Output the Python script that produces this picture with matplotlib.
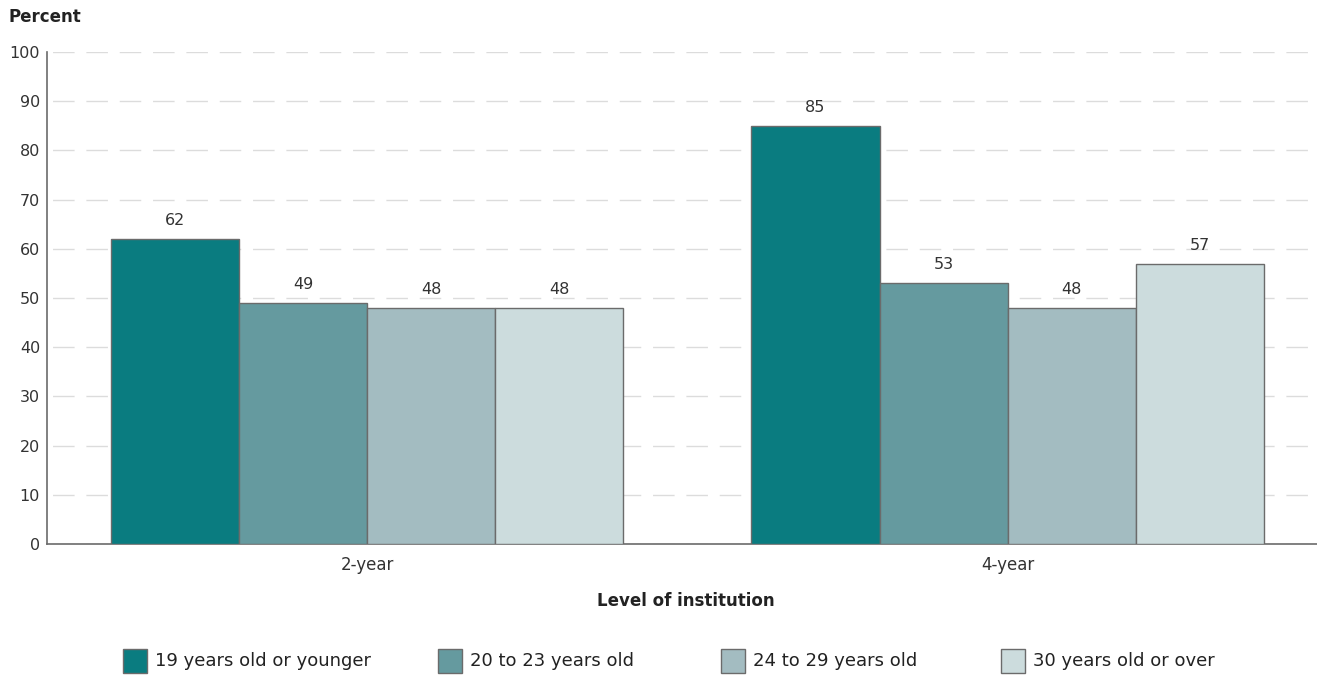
import numpy as np
import matplotlib.pyplot as plt
from matplotlib.patches import Rectangle

levels = ["2-year", "4-year"]
age_groups = ["19 years old or younger", "20 to 23 years old",
              "24 to 29 years old", "30 years old or over"]
pct_19_under = [62, 85]
pct_20_23 = [49, 53]
pct_24_29 = [48, 48]
pct_30_over = [48, 57]
colors = ["#0a7c80", "#659a9f", "#a3bcc1", "#ccdcdd"]

series = [pct_19_under, pct_20_23, pct_24_29, pct_30_over]

plt.rcParams['font.family'] = ['DejaVu Sans']

W, H = 1317, 677
fig = plt.figure(figsize=(W / 100, H / 100), dpi=100)
ax = fig.add_axes([47 / W, (H - 544) / H, (W - 47) / W, (544 - 52) / H])

x = np.arange(len(levels))
width = 0.2
for i, (vals, c) in enumerate(zip(series, colors)):
    pos = x + (i - 1.5) * width
    bars = ax.bar(pos, vals, width, color=c, edgecolor="#6b6b6b", linewidth=1, zorder=3)
    for b, v in zip(bars, vals):
        ax.text(b.get_x() + b.get_width() / 2, v + 2.2, str(v), ha="center", va="bottom",
                fontsize=11.5, color="#333333")

ax.set_xlim(-0.5, 1.483)
ax.set_ylim(0, 100)
ax.set_yticks(range(0, 101, 10))
ax.set_xticks(x)
ax.set_xticklabels(levels)
ax.tick_params(axis="both", length=0, labelsize=11.5, colors="#333333", pad=5)
ax.tick_params(axis="x", labelsize=12, pad=9)
ax.yaxis.grid(True, color="#dcdcdc", linestyle=(-4, (15.5, 8.5)), linewidth=1, zorder=0)
for s in ["top", "right"]:
    ax.spines[s].set_visible(False)
for s in ["left", "bottom"]:
    ax.spines[s].set_color("#6b6b6b")
    ax.spines[s].set_linewidth(1.2)

fig.text(8 / W, 1 - 17 / H, "Percent", fontsize=12, fontweight="bold", color="#222222",
         va="center", ha="left")
fig.text(686 / W, 1 - 601 / H, "Level of institution", fontsize=12, fontweight="bold",
         color="#222222", va="center", ha="center")

# legend row
legend_x = [123, 438, 721, 1001]
for lx, label, c in zip(legend_x, age_groups, colors):
    fig.patches.append(Rectangle((lx / W, 1 - 673 / H), 24 / W, 24 / H,
                                 transform=fig.transFigure, facecolor=c,
                                 edgecolor="#6b6b6b", linewidth=1))
    fig.text((lx + 32) / W, 1 - 661 / H, label, fontsize=13, color="#222222",
             va="center", ha="left")

fig.savefig("out.png", dpi=100)
